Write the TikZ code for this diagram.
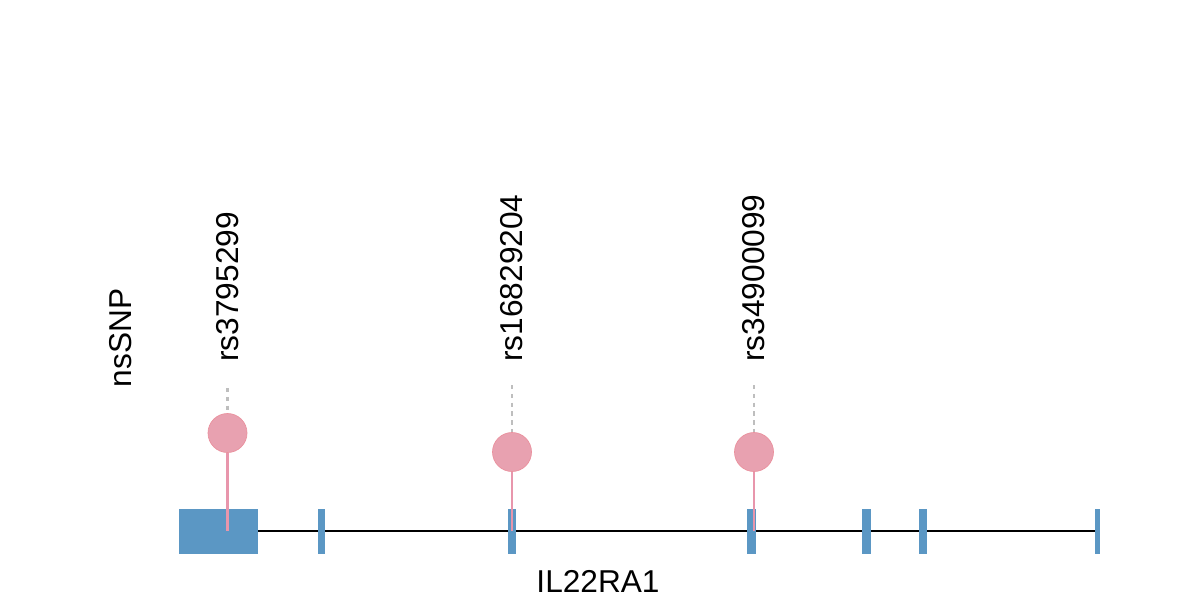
\documentclass[tikz,border=0pt]{standalone}
\usepackage{fontspec}
\setmainfont{Liberation Sans}
\definecolor{exonblue}{RGB}{91,151,196}
\definecolor{snppink}{RGB}{232,161,176}
\definecolor{stickpink}{RGB}{232,150,172}
\definecolor{dotgray}{RGB}{190,190,190}
\begin{document}
\begin{tikzpicture}[x=0.02cm,y=-0.02cm,
  exon/.style={fill=exonblue},
  snp/.style={circle,fill=snppink,draw=snppink!90!red,line width=0.4pt,minimum size=0.78cm,inner sep=0pt},
  stick/.style={draw=stickpink,line width=1.5pt},
  dotline/.style={draw=dotgray,line width=1.3pt,dash pattern=on 2.5pt off 2.5pt},
  lbl/.style={font=\fontsize{18}{20}\selectfont,inner sep=0pt}]
\useasboundingbox (0,0) rectangle (1200,600);
% gene backbone
\coordinate (g0) at (179,531);
\coordinate (g1) at (1100,531);
\draw[line width=1.2pt] (g0) -- (g1);
% exons
\fill[exon] (179,509) rectangle (258,554);
\fill[exon] (318,509) rectangle (325,554);
\fill[exon] (508,509) rectangle (515.5,554);
\fill[exon] (747,509) rectangle (756,554);
\fill[exon] (862,509) rectangle (871,554);
\fill[exon] (919,509) rectangle (927,554);
\fill[exon] (1095,509) rectangle (1100,554);
% SNPs
\coordinate (b1) at (227.5,531);
\coordinate (b2) at (512,531);
\coordinate (b3) at (754,531);
\coordinate (t1) at (227.5,388);
\coordinate (t2) at (512,385);
\coordinate (t3) at (754,385);
\node[snp] (s1) at (227.5,433) {};
\node[snp] (s2) at (512,452) {};
\node[snp] (s3) at (754,452) {};
\draw[stick] (b1) -- (s1.south);
\draw[stick] (b2) -- (s2.south);
\draw[stick] (b3) -- (s3.south);
\draw[dotline] (t1) -- (s1.north);
\draw[dotline] (t2) -- (s2.north);
\draw[dotline] (t3) -- (s3.north);
% labels
\node[lbl,rotate=90,anchor=base west] (l1) at (238,362) {rs3795299};
\node[lbl,rotate=90,anchor=base west] (l2) at (522,362) {rs16829204};
\node[lbl,rotate=90,anchor=base west] (l3) at (764,362) {rs34900099};
\node[lbl,rotate=90,anchor=base] (ns) at (131,338) {nsSNP};
\node[lbl,anchor=base] (gene) at (598,592) {IL22RA1};
\end{tikzpicture}
\end{document}
